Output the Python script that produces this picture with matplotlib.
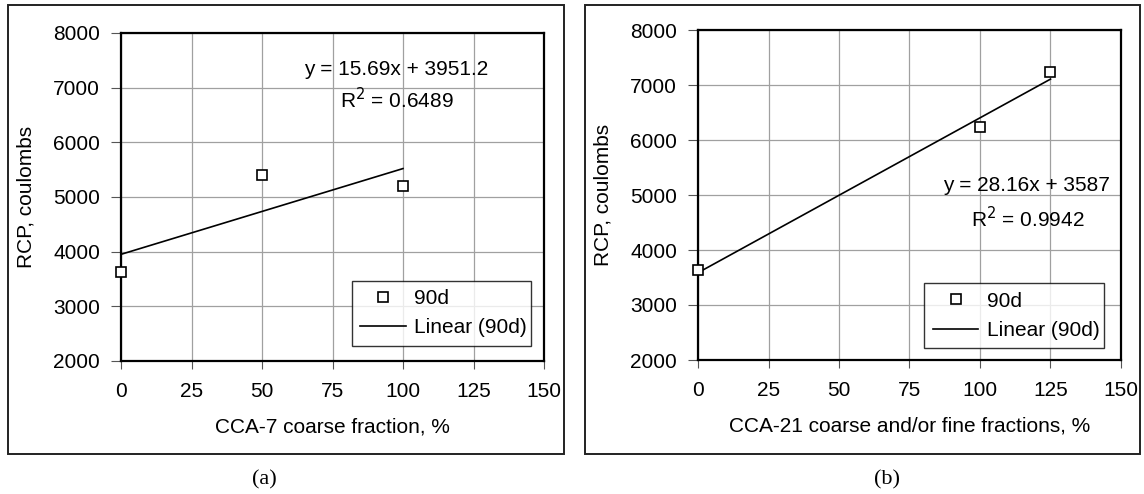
import matplotlib
matplotlib.use("Agg")
import numpy as np
import matplotlib.pyplot as plt
from matplotlib.patches import Rectangle

plt.rcParams['font.family'] = ['Liberation Sans', 'DejaVu Sans']

# (a) CCA-7 coarse fraction
x_a = [0, 50, 100]
rcp_a = [3630, 5410, 5200]
slope_a, icpt_a, r2_a = 15.69, 3951.2, 0.6489

# (b) CCA-21 coarse and/or fine fractions
x_b = [0, 100, 125]
rcp_b = [3640, 6240, 7230]
slope_b, icpt_b, r2_b = 28.16, 3587, 0.9942

xticks = [0, 25, 50, 75, 100, 125, 150]
yticks = [2000, 3000, 4000, 5000, 6000, 7000, 8000]

W, H = 1144, 494
fig = plt.figure(figsize=(W / 100, H / 100), dpi=100)

def px(x0, y0, x1, y1):
    # pixel box -> figure fraction [left, bottom, width, height]
    return [x0 / W, 1 - y1 / H, (x1 - x0) / W, (y1 - y0) / H]

# outer frames round each panel
for box in [(8, 5, 564, 454), (585, 5, 1140, 454)]:
    l, b, w, h = px(*box)
    fig.patches.append(Rectangle((l, b), w, h, transform=fig.transFigure,
                                 fill=False, edgecolor='#222222', linewidth=1.4))

def panel(rect, xs, ys, slope, icpt, r2, xlabel, eq_xy, r2_xy, leg_box):
    ax = fig.add_axes(rect)
    xfit = np.array([0, max(xs)])
    ax.plot(xs, ys, linestyle='none', marker='s', markersize=7.5,
            markerfacecolor='white', markeredgecolor='black',
            markeredgewidth=1.2, label='90d', zorder=4, clip_on=False)
    ax.plot(xfit, slope * xfit + icpt, color='black', linewidth=1.2,
            label='Linear (90d)', zorder=3)
    ax.set_xlim(0, 150)
    ax.set_ylim(2000, 8000)
    ax.set_xticks(xticks)
    ax.set_yticks(yticks)
    ax.grid(True, color='#a0a0a0', linewidth=0.9)
    ax.set_axisbelow(True)
    for s in ax.spines.values():
        s.set_linewidth(1.6)
        s.set_color('black')
    ax.tick_params(axis='both', labelsize=15, direction='out', color='#555555')
    ax.tick_params(axis='x', length=6, pad=9)
    ax.tick_params(axis='y', length=7, pad=8)
    ax.set_xlabel(xlabel, fontsize=15, labelpad=12)
    ax.set_ylabel('RCP, coulombs', fontsize=15, labelpad=13)
    ax.text(eq_xy[0], eq_xy[1], f'y = {slope}x + {icpt}', fontsize=15,
            ha='center', va='center')
    ax.text(r2_xy[0], r2_xy[1], f'R$^2$ = {r2:.4f}', fontsize=15,
            ha='center', va='center')
    leg = ax.legend(loc='lower left', bbox_to_anchor=leg_box, mode='expand',
                    fontsize=15, frameon=True, fancybox=False, borderaxespad=0,
                    handlelength=2.2, handletextpad=0.4, labelspacing=0.5,
                    borderpad=0.4)
    leg.get_frame().set_edgecolor('black')
    leg.get_frame().set_linewidth(1.0)
    return ax

ax_a = panel(px(121, 33, 544, 361), x_a, rcp_a, slope_a, icpt_a, r2_a,
             'CCA-7 coarse fraction, %', (97.5, 7340), (98, 6790),
             (0.545, 0.047, 0.425, 0.195))
ax_b = panel(px(698, 30, 1121, 360), x_b, rcp_b, slope_b, icpt_b, r2_b,
             'CCA-21 coarse and/or fine fractions, %', (116.5, 5165), (117, 4580),
             (0.535, 0.035, 0.425, 0.195))

fig.text(264 / W, 1 - 480 / H, '(a)', family='Liberation Serif', fontsize=16,
         ha='center', va='center')
fig.text(887 / W, 1 - 480 / H, '(b)', family='Liberation Serif', fontsize=16,
         ha='center', va='center')

fig.savefig('out.png', dpi=100)
